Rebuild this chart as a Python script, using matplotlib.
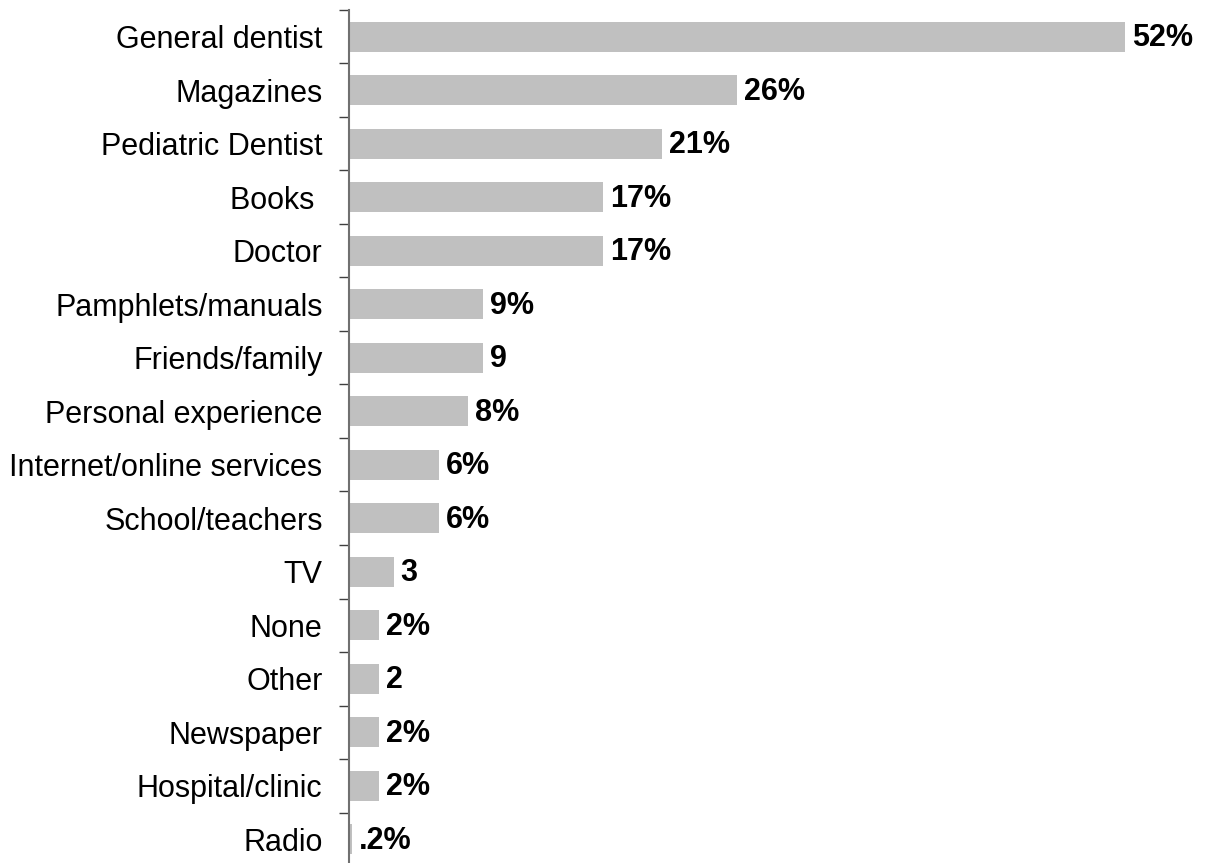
import matplotlib.pyplot as plt
from matplotlib.ticker import FixedLocator

# sources of information, top to bottom
sources = ["General dentist", "Magazines", "Pediatric Dentist", "Books ", "Doctor",
           "Pamphlets/manuals", "Friends/family", "Personal experience",
           "Internet/online services", "School/teachers", "TV", "None", "Other",
           "Newspaper", "Hospital/clinic", "Radio"]
shares = [52, 26, 21, 17, 17, 9, 9, 8, 6, 6, 3, 2, 2, 2, 2, 0.2]
show_pct = [True, True, True, True, True, True, False, True, True, True,
            False, True, False, True, True, True]

plt.rcParams['font.family'] = ['Liberation Sans', 'DejaVu Sans']

fig = plt.figure(figsize=(12.08, 8.63), dpi=100)
ax = fig.add_axes([349 / 1208, -3 / 863, (1125 - 349) / 1208, (866 - 10) / 863])

n = len(sources)
ypos = list(range(n))
ax.barh(ypos, shares, height=0.56, color='#c0c0c0', edgecolor='none')

for y, v, pct in zip(ypos, shares, show_pct):
    if v < 1:
        txt = ('%.1f' % v).lstrip('0')
    else:
        txt = '%d' % round(v)
    if pct:
        txt += '%'
    ax.annotate(txt, (v, y), xytext=(5, -1), textcoords='offset points',
                ha='left', va='center', fontsize=22, fontweight='bold',
                annotation_clip=False)

ax.set_xlim(0, 52)
ax.set_ylim(n - 0.5, -0.5)
ax.set_yticks(ypos)
ax.set_yticklabels(sources, fontsize=22)
ax.yaxis.set_minor_locator(FixedLocator([i - 0.5 for i in range(n)]))
ax.tick_params(axis='y', which='major', length=0, pad=19)
ax.tick_params(axis='y', which='minor', length=7, width=1, color='#404040')
ax.set_xticks([])

for side in ['top', 'right', 'bottom']:
    ax.spines[side].set_visible(False)
ax.spines['left'].set_color('#707070')
ax.spines['left'].set_linewidth(1.5)

plt.savefig('out.png', dpi=100)
